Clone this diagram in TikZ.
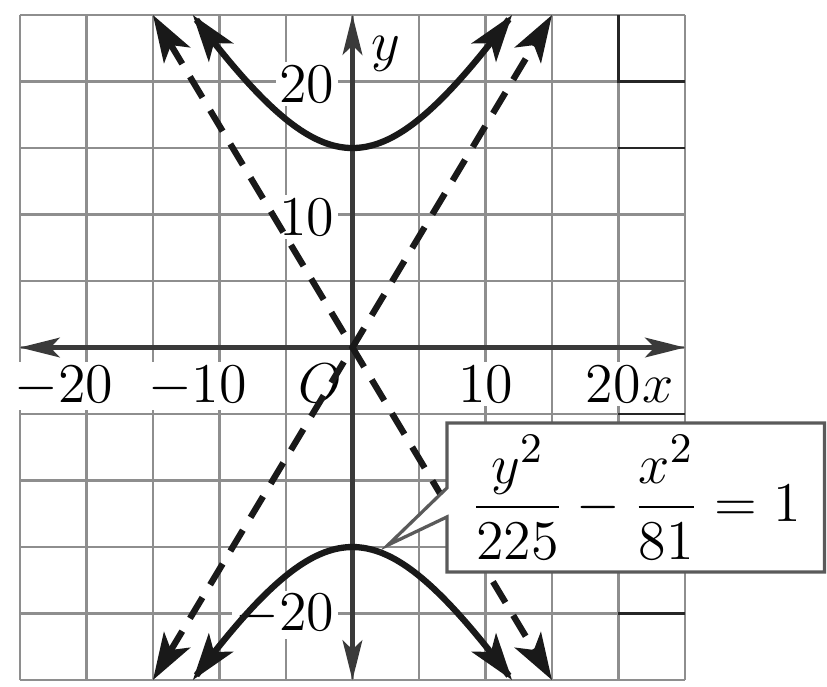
\documentclass[tikz,border=0pt]{standalone}
\usepackage{amsmath}
\usetikzlibrary{arrows.meta,positioning}
\definecolor{gridgray}{HTML}{8E8E8E}
\definecolor{axisgray}{HTML}{3A3A3A}
\definecolor{boxgray}{HTML}{5A5A5A}
\tikzset{
  axtip/.tip={Stealth[length=8.5pt,width=4.2pt,inset=2pt]},
  hytip/.tip={Stealth[length=10pt,width=6.5pt,inset=2.5pt]},
  % rutnät och axlar
  gl/.style={draw=gridgray,line width=0.55pt},
  gldark/.style={draw=black!85,line width=0.5pt},
  ax/.style={axtip-axtip,draw=axisgray,line width=1.05pt},
  tl/.style={font=\fontsize{13}{15}\selectfont,fill=white,inner sep=0.8pt},
  % kurvor
  hyp/.style={hytip-hytip,draw=black!90,line width=1.35pt},
  asym/.style={hyp,dash pattern=on 5.2pt off 3.2pt},
  % ruta
  eqframe/.style={rectangle,minimum width=2.84cm,minimum height=1.12cm,
                  inner sep=0pt,outer sep=0pt},
  eqline/.style={draw=boxgray,fill=white,line width=0.7pt,line join=miter},
  eqtext/.style={font=\fontsize{12.6}{15}\selectfont,inner sep=0pt},
}
\begin{document}
\begin{tikzpicture}[x=0.1cm,y=0.1cm]
  \useasboundingbox (-26.5,-25.45) rectangle (35.68,26.13);
  \foreach \k in {-25,-20,...,25} {
    \draw[gl] (\k,-25) -- (\k,25);
    \draw[gl] (-25,\k) -- (25,\k);
  }
  \draw[gldark] (20,25) -- (20,20) -- (25,20);
  \draw[gldark] (20,15) -- (25,15);
  \draw[gldark] (20,-5) -- (25,-5);
  \draw[gldark] (20,-20) -- (25,-20);
  % tal vid axlarna
  \node[tl,anchor=base] (xm20) at (-21.7,-4.1) {$-20$};
  \node[tl,anchor=base] (xm10) at (-11.65,-4.1) {$-10$};
  \node[tl,anchor=base] (orig) at (-2.4,-4.1) {$O$};
  \node[tl,anchor=base] (xp10) at (10.04,-4.1) {$10$};
  \node[tl,anchor=base] (xp20) at (19.6,-4.1) {$20$};
  \node[tl,anchor=base] (xlab) at (23.0,-4.1) {$x$};
  \node[tl,anchor=east] (yp20) at (-1,19.8) {$20$};
  \node[tl,anchor=east] (yp10) at (-1,9.8) {$10$};
  \node[tl,anchor=east] (ym20) at (-1,-20.1) {$-20$};
  \node[tl,anchor=base] (ylab) at (2.5,21.6) {$y$};
  \coordinate (xl) at (-25,0);
  \coordinate (xr) at (25,0);
  \coordinate (yb) at (0,-25);
  \coordinate (yt) at (0,25);
  \draw[ax] (xl) -- (xr);
  \draw[ax] (yb) -- (yt);
  % asymptoter
  \coordinate (a1) at (-15,-25);
  \coordinate (a2) at (15,25);
  \coordinate (a3) at (-15,25);
  \coordinate (a4) at (15,-25);
  \draw[asym] (a1) -- (a2);
  \draw[asym] (a3) -- (a4);
  % hyperbelns grenar
  \draw[hyp] plot[domain=-12:12,samples=81,smooth] (\x,{15*sqrt(1+\x*\x/81)});
  \draw[hyp] plot[domain=-12:12,samples=81,smooth] (\x,{-15*sqrt(1+\x*\x/81)});
  % ekvationsruta
  \node[eqframe] (eq) at (21.3,-11.28) {};
  \coordinate (ptip) at (2.67,-14.85);
  \coordinate (pbtop) at (eq.west |- 0,-10.56);
  \coordinate (pbbot) at (eq.west |- 0,-12.74);
  \draw[eqline] (eq.north west) -- (eq.north east) -- (eq.south east)
    -- (eq.south west) -- (pbbot) -- (ptip) -- (pbtop) -- cycle;
  \node[eqtext] (eqt) at (eq.center) {$\dfrac{y^2}{225}-\dfrac{x^2}{81}=1$};
\end{tikzpicture}
\end{document}
